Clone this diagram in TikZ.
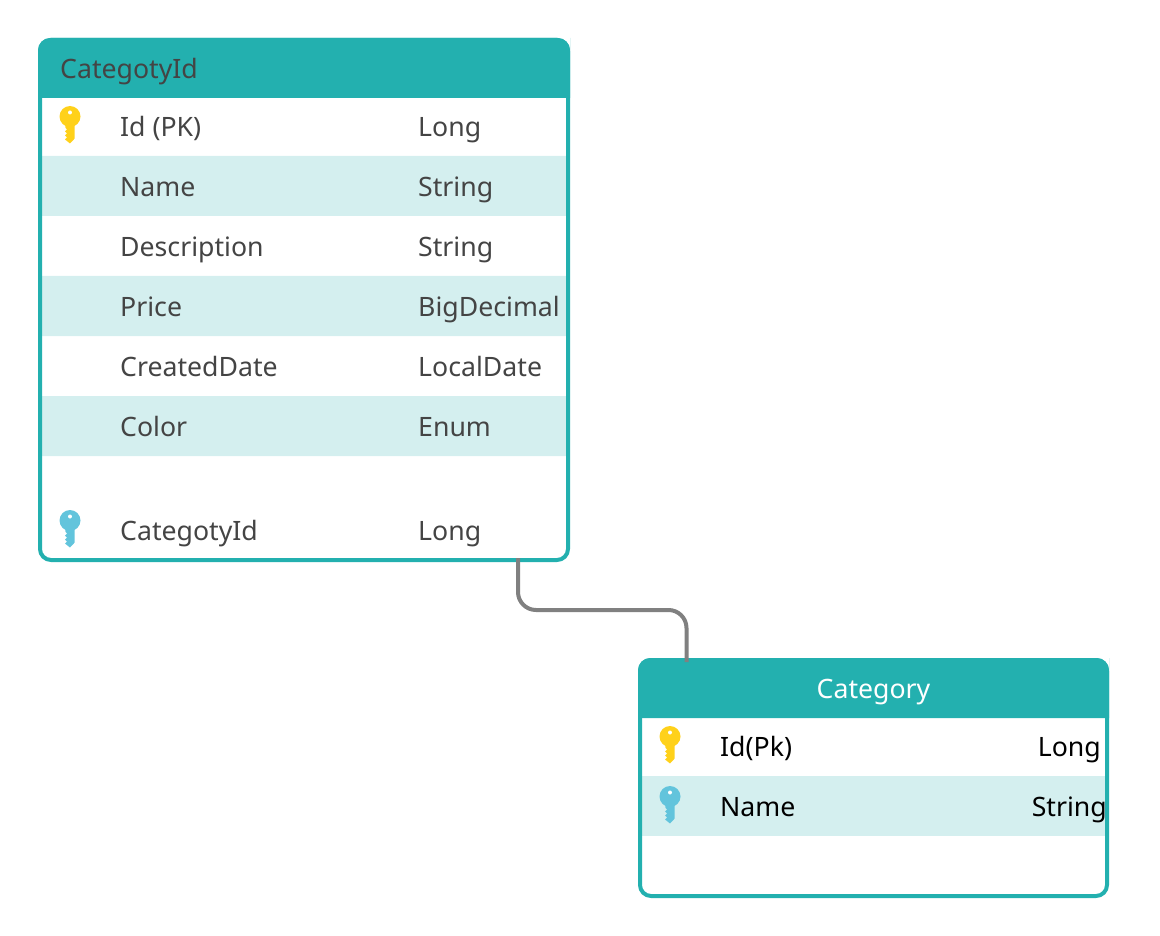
\documentclass[tikz,border=0pt]{standalone}
\usepackage{fontspec}
\setmainfont{Noto Sans}
\definecolor{teal}{HTML}{23B0AF}
\definecolor{band}{HTML}{D4EFEF}
\definecolor{gold}{HTML}{FFD11A}
\definecolor{sky}{HTML}{62C4DC}
\definecolor{ink}{HTML}{444444}
\tikzset{
	frame/.style={draw=teal, line width=4pt, rounded corners=11pt, inner sep=0pt},
	cell/.style={anchor=base west, inner sep=0pt, font=\fontsize{26.67}{30}\selectfont},
	link/.style={draw=gray, line width=4pt, rounded corners=18pt},
	pics/keyicon/.style={code={
		\fill[#1] (0,0) circle (10.5pt);
		\fill[#1] (4.7,6) -- (4.7,22) -- (0,27) -- (-5,23) -- (-3,21) -- (-5,19) -- (-3,17) -- (-5,15) -- (-3,13) -- (-4.7,11) -- (-4.7,6) -- cycle;
		\fill[white] (0,-4) circle (2pt);
	}}
}
\begin{document}
\begin{tikzpicture}[x=1pt, y=-1pt, line cap=butt, line join=round]
	\useasboundingbox (0,0) rectangle (1160,936);
	% left table
	\fill[band] (42,156) rectangle (566,216) (42,276) rectangle (566,336) (42,396) rectangle (566,456);
	\node[frame, minimum width=528pt, minimum height=520pt] (catid) at (304,300) {};
	\fill[teal, rounded corners=12pt] (38,98) [sharp corners] -- (38,50) [rounded corners=12pt] -- (38,38) -- (570,38) -- (570,50) [sharp corners] -- (570,98) -- cycle;
	\node[cell, text=ink] (catidtitle) at (60,78.2) {CategotyId};
	\foreach \rowy/\rowname/\rowtype [count=\i] in {136.2/Id (PK)/Long, 196.2/Name/String, 256.2/Description/String, 316.2/Price/BigDecimal, 376.2/CreatedDate/LocalDate, 436.2/Color/Enum, 540.2/CategotyId/Long}{
		\node[cell, text=ink] (catidname\i) at (120,\rowy) {\rowname};
		\node[cell, text=ink] (catidtype\i) at (418,\rowy) {\rowtype};
	}
	\pic at (70,116.5) {keyicon=gold};
	\pic at (70,520.5) {keyicon=sky};
	% right table
	\fill[band] (642,776) rectangle (1105,836);
	\node[frame, minimum width=467pt, minimum height=236pt] (cat) at (873.5,778) {};
	\fill[teal, rounded corners=12pt] (638,718) [sharp corners] -- (638,670) [rounded corners=12pt] -- (638,658) -- (1109,658) -- (1109,670) [sharp corners] -- (1109,718) -- cycle;
	\node[cell, text=white, anchor=base] (cattitle) at (873.5,698.2) {Category};
	\node[cell] (catname1) at (720,756.2) {Id(Pk)};
	\node[cell, anchor=base east] (cattype1) at (1101,756.2) {Long};
	\node[cell] (catname2) at (720,816.2) {Name};
	\node[cell, anchor=base east] (cattype2) at (1107,816.2) {String};
	\pic at (670,736.5) {keyicon=gold};
	\pic at (670,796.5) {keyicon=sky};
	% connector
	\coordinate (catidout) at ([xshift=214pt, yshift=4pt]catid.south);
	\coordinate (catin) at ([xshift=-187pt, yshift=-4pt]cat.north);
	\draw[link] (catidout) -- ++(0,52) -| (catin);
\end{tikzpicture}
\end{document}
